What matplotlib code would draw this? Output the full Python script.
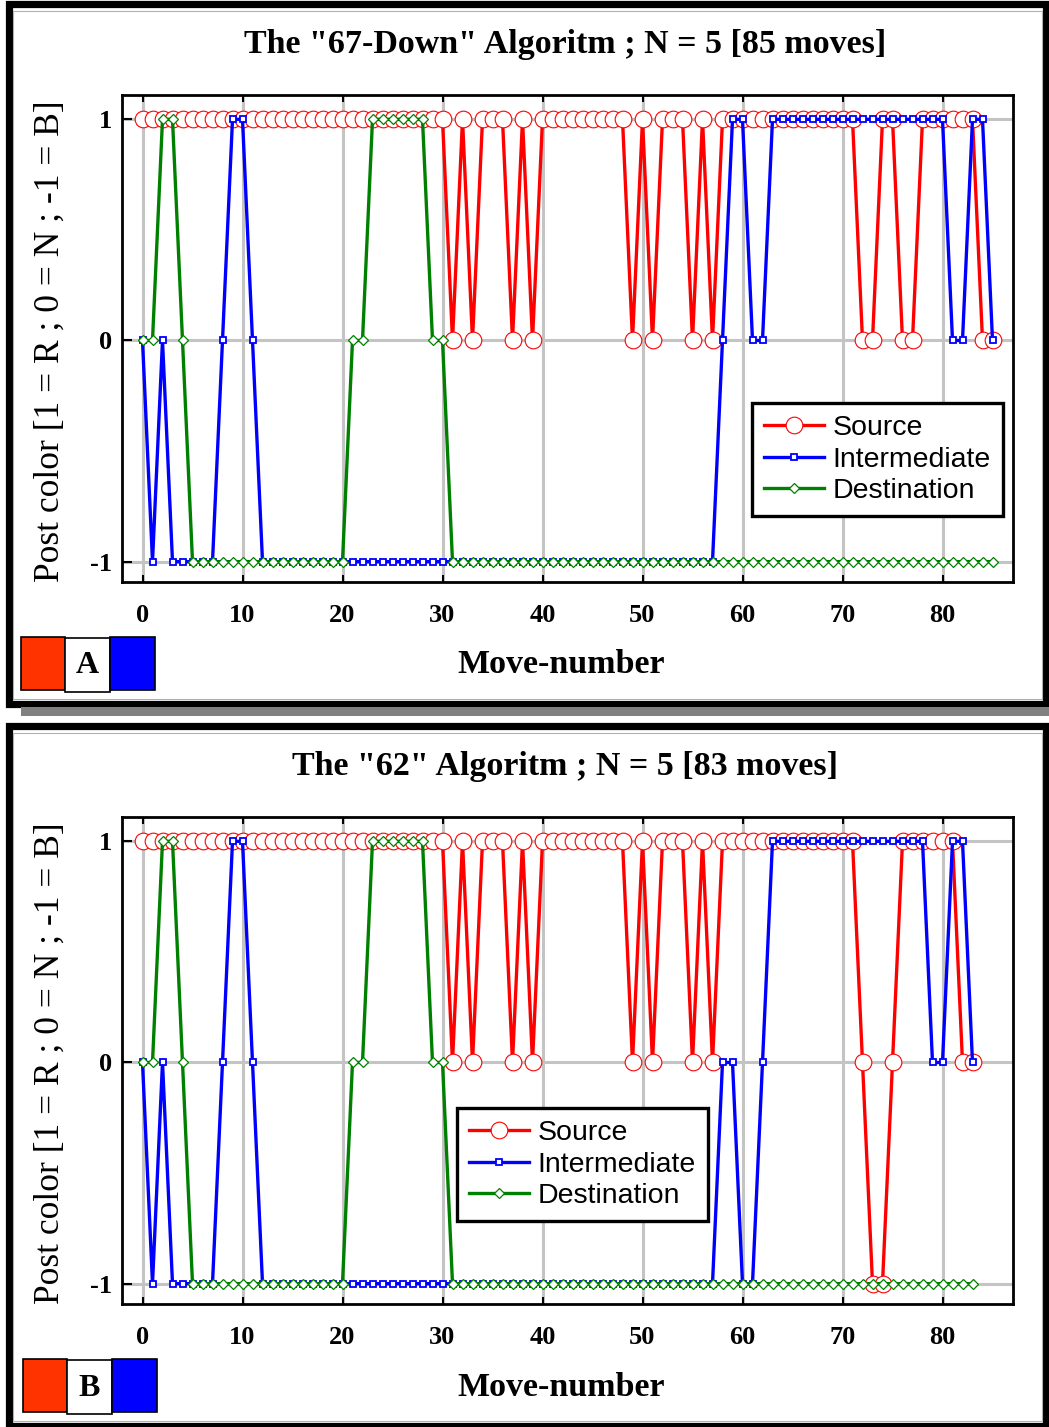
import matplotlib
matplotlib.use("Agg")
import matplotlib.pyplot as plt
from matplotlib.patches import Rectangle

plt.rcParams["axes.unicode_minus"] = False

W, H = 1049, 1427

# --- data (move number -> post colour) ---
moves_a = list(range(86))
source_a = [1, 1, 1, 1, 1, 1, 1, 1, 1, 1,
            1, 1, 1, 1, 1, 1, 1, 1, 1, 1,
            1, 1, 1, 1, 1, 1, 1, 1, 1, 1,
            1, 0, 1, 0, 1, 1, 1, 0, 1, 0,
            1, 1, 1, 1, 1, 1, 1, 1, 1, 0,
            1, 0, 1, 1, 1, 0, 1, 0, 1, 1,
            1, 1, 1, 1, 1, 1, 1, 1, 1, 1,
            1, 1, 0, 0, 1, 1, 0, 0, 1, 1,
            1, 1, 1, 1, 0, 0]
inter_a = [0, -1, 0, -1, -1, -1, -1, -1, 0, 1,
           1, 0, -1, -1, -1, -1, -1, -1, -1, -1,
           -1, -1, -1, -1, -1, -1, -1, -1, -1, -1,
           -1, -1, -1, -1, -1, -1, -1, -1, -1, -1,
           -1, -1, -1, -1, -1, -1, -1, -1, -1, -1,
           -1, -1, -1, -1, -1, -1, -1, -1, 0, 1,
           1, 0, 0, 1, 1, 1, 1, 1, 1, 1,
           1, 1, 1, 1, 1, 1, 1, 1, 1, 1,
           1, 0, 0, 1, 1, 0]
dest_a = [0, 0, 1, 1, 0, -1, -1, -1, -1, -1,
          -1, -1, -1, -1, -1, -1, -1, -1, -1, -1,
          -1, 0, 0, 1, 1, 1, 1, 1, 1, 0,
          0, -1, -1, -1, -1, -1, -1, -1, -1, -1,
          -1, -1, -1, -1, -1, -1, -1, -1, -1, -1,
          -1, -1, -1, -1, -1, -1, -1, -1, -1, -1,
          -1, -1, -1, -1, -1, -1, -1, -1, -1, -1,
          -1, -1, -1, -1, -1, -1, -1, -1, -1, -1,
          -1, -1, -1, -1, -1, -1]

moves_b = list(range(84))
source_b = [1, 1, 1, 1, 1, 1, 1, 1, 1, 1,
            1, 1, 1, 1, 1, 1, 1, 1, 1, 1,
            1, 1, 1, 1, 1, 1, 1, 1, 1, 1,
            1, 0, 1, 0, 1, 1, 1, 0, 1, 0,
            1, 1, 1, 1, 1, 1, 1, 1, 1, 0,
            1, 0, 1, 1, 1, 0, 1, 0, 1, 1,
            1, 1, 1, 1, 1, 1, 1, 1, 1, 1,
            1, 1, 0, -1, -1, 0, 1, 1, 1, 1,
            1, 1, 0, 0]
inter_b = [0, -1, 0, -1, -1, -1, -1, -1, 0, 1,
           1, 0, -1, -1, -1, -1, -1, -1, -1, -1,
           -1, -1, -1, -1, -1, -1, -1, -1, -1, -1,
           -1, -1, -1, -1, -1, -1, -1, -1, -1, -1,
           -1, -1, -1, -1, -1, -1, -1, -1, -1, -1,
           -1, -1, -1, -1, -1, -1, -1, -1, 0, 0,
           -1, -1, 0, 1, 1, 1, 1, 1, 1, 1,
           1, 1, 1, 1, 1, 1, 1, 1, 1, 0,
           0, 1, 1, 0]
dest_b = [0, 0, 1, 1, 0, -1, -1, -1, -1, -1,
          -1, -1, -1, -1, -1, -1, -1, -1, -1, -1,
          -1, 0, 0, 1, 1, 1, 1, 1, 1, 0,
          0, -1, -1, -1, -1, -1, -1, -1, -1, -1,
          -1, -1, -1, -1, -1, -1, -1, -1, -1, -1,
          -1, -1, -1, -1, -1, -1, -1, -1, -1, -1,
          -1, -1, -1, -1, -1, -1, -1, -1, -1, -1,
          -1, -1, -1, -1, -1, -1, -1, -1, -1, -1,
          -1, -1, -1, -1]

titles = ['The "67-Down" Algoritm ; N = 5 [85 moves]',
          'The "62" Algoritm ; N = 5 [83 moves]']
tags = ["A", "B"]
series_names = ["Source", "Intermediate", "Destination"]
xticks = [0, 10, 20, 30, 40, 50, 60, 70, 80]
yticks = [-1, 0, 1]

SERIF = "Liberation Serif"
SANS = "Liberation Sans"


def fx(x):
    return x / W


def fy(y):
    return 1 - y / H


fig = plt.figure(figsize=(W / 100, H / 100), dpi=100)
fig.patch.set_facecolor("white")


def panel(off, moves, src, inter, dest, title, tag, leg_xy, badge_x):
    # outer frame + thin inner line
    fig.add_artist(Rectangle((fx(8.5), fy(703.5 + off)), fx(1037), 700 / H,
                             transform=fig.transFigure, fill=False,
                             edgecolor="black", linewidth=5.2, zorder=0))
    fig.add_artist(Rectangle((fx(12.5), fy(699 + off)), fx(1029), 688 / H,
                             transform=fig.transFigure, fill=False,
                             edgecolor="#b0b0b0", linewidth=0.8, zorder=0))

    ax = fig.add_axes([fx(122), fy(582 + off), fx(1013 - 122), (582 - 95) / H])
    ax.plot(moves, src, color="#ff0000", lw=2.4, marker="o", ms=12,
            mfc="white", mec="#ff0000", mew=0.8, label=series_names[0], zorder=3)
    ax.plot(moves, inter, color="#0000ff", lw=2.4, marker="s", ms=5.0,
            mfc="white", mec="#0000ff", mew=1.3, label=series_names[1], zorder=4)
    ax.plot(moves, dest, color="#008000", lw=2.4, marker="D", ms=5.0,
            mfc="white", mec="#008000", mew=0.9, label=series_names[2], zorder=5)

    ax.set_xlim(-2.05, 87.05)
    ax.set_ylim(-1.092, 1.11)
    ax.set_xticks(xticks)
    ax.set_yticks(yticks)
    ax.grid(True, color="#c4c4c4", lw=2.2)
    ax.set_axisbelow(True)
    for s in ax.spines.values():
        s.set_linewidth(2)
    ax.tick_params(axis="x", direction="in", length=5, width=1.5, top=True,
                   pad=16, labelsize=19)
    ax.tick_params(axis="y", direction="in", length=7, width=1.5, pad=7,
                   labelsize=19)
    for lab in ax.get_xticklabels() + ax.get_yticklabels():
        lab.set_fontfamily(SERIF)
        lab.set_fontweight("bold")

    fig.text(fx(565), fy(45 + off), title, ha="center", va="center",
             fontsize=24.5, fontweight="bold", family=SERIF)
    fig.text(fx(561), fy(665 + off), "Move-number", ha="center", va="center",
             fontsize=24.5, fontweight="bold", family=SERIF)
    fig.text(fx(50), fy(341 + off), "Post color [1 = R ; 0 = N ; -1 = B]",
             ha="center", va="center", rotation=90, fontsize=25.5, family=SERIF)

    leg = ax.legend(loc="upper left",
                    bbox_to_anchor=(fx(leg_xy[0]), fy(leg_xy[1] + off)),
                    bbox_transform=fig.transFigure, borderaxespad=0,
                    prop={"family": SANS, "size": 20.5}, fancybox=False,
                    framealpha=1, edgecolor="black", borderpad=0.42,
                    handlelength=2.1, handletextpad=0.3, labelspacing=0.2)
    leg.get_frame().set_linewidth(2.4)

    # colour badge
    bx = badge_x
    fig.add_artist(Rectangle((fx(bx), fy(690 + off)), fx(44), 53.5 / H,
                             transform=fig.transFigure, facecolor="#ff3300",
                             edgecolor="black", lw=1.2))
    fig.add_artist(Rectangle((fx(bx + 44), fy(692 + off)), fx(45), 54 / H,
                             transform=fig.transFigure, facecolor="white",
                             edgecolor="black", lw=1.2))
    fig.add_artist(Rectangle((fx(bx + 89.5), fy(690 + off)), fx(45), 53.5 / H,
                             transform=fig.transFigure, facecolor="#0000ff",
                             edgecolor="black", lw=1.2))
    fig.text(fx(bx + 66.5), fy(666 + off), tag, ha="center", va="center",
             fontsize=23, fontweight="bold", family=SERIF)
    return ax


panel(0, moves_a, source_a, inter_a, dest_a, titles[0], tags[0], (752, 403), 20.7)
# shadow under panel A
fig.add_artist(Rectangle((fx(21), fy(716)), fx(1028), 9 / H,
                         transform=fig.transFigure, facecolor="#808080",
                         edgecolor="none", zorder=0))
panel(722, moves_b, source_b, inter_b, dest_b, titles[1], tags[1], (457, 386), 22.7)

fig.savefig("out.png", dpi=100, facecolor="white")
